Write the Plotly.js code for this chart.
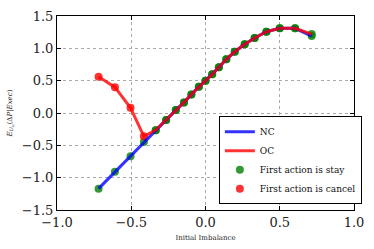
<!DOCTYPE html>
<html><head><meta charset="utf-8">
<script src="https://cdn.plot.ly/plotly-3.0.1.min.js"></script>
<style>html,body{margin:0;padding:0;background:#fff}</style>
</head><body><div id="c" style="width:374px;height:249px"></div>
<script>
const imbalance = [-0.72,-0.61,-0.505,-0.415,-0.335,-0.265,-0.2,-0.145,-0.095,-0.045,0,0.045,0.09,0.14,0.197,0.264,0.331,0.41,0.5,0.603,0.715];
const nc = [-1.17,-0.91,-0.667,-0.45,-0.265,-0.11,0.045,0.164,0.288,0.406,0.5,0.598,0.706,0.83,0.947,1.062,1.16,1.257,1.31,1.31,1.19];
const oc = [0.56,0.40,0.08,-0.36,-0.265,-0.11,0.045,0.164,0.288,0.406,0.5,0.598,0.706,0.83,0.947,1.062,1.16,1.257,1.31,1.31,1.22];
const nCancel = 4; // first OC points where first action is cancel

const stayX = imbalance.concat(imbalance.slice(nCancel));
const stayY = nc.concat(oc.slice(nCancel));
const cancelX = imbalance.slice(0, nCancel);
const cancelY = oc.slice(0, nCancel);

const font = "DejaVu Serif";
const green = 'rgba(0,128,0,0.8)', red = 'rgba(255,0,0,0.8)', blue = 'rgba(0,0,255,0.8)';
const traces = [
  {x: stayX, y: stayY, mode: 'markers', name: 'First action is stay', legendgroup: 's', showlegend: false,
   marker: {color: green, size: 8}},
  {x: cancelX, y: cancelY, mode: 'markers', name: 'First action is cancel', legendgroup: 'c', showlegend: false,
   marker: {color: red, size: 8}},
  {x: imbalance, y: nc, mode: 'lines', name: 'NC', line: {color: blue, width: 3}, legendrank: 1},
  {x: imbalance, y: oc, mode: 'lines', name: 'OC', line: {color: red, width: 3}, legendrank: 2},
  {x: [null], y: [null], mode: 'markers', name: 'First action is stay', legendgroup: 's', marker: {color: green, size: 8}, legendrank: 3},
  {x: [null], y: [null], mode: 'markers', name: 'First action is cancel', legendgroup: 'c', marker: {color: red, size: 8}, legendrank: 4}
];
const axisCommon = {
  showline: true, linecolor: '#000', linewidth: 1, mirror: 'ticks',
  ticks: 'inside', ticklen: 4, tickcolor: '#000',
  showgrid: true, gridcolor: '#aaa', griddash: 'dot', gridwidth: 1,
  zeroline: false, tickfont: {family: font, size: 13, color: '#222'}
};
const layout = {
  width: 374, height: 249,
  font: {family: font},
  margin: {l: 57, r: 18, t: 16, b: 39},
  paper_bgcolor: '#fff', plot_bgcolor: '#fff',
  xaxis: Object.assign({}, axisCommon, {range: [-1, 1], tickvals: [-1, -0.5, 0, 0.5, 1],
    ticktext: ['\u22121.0', '\u22120.5', '0.0', '0.5', '1.0'],
    title: {text: 'Initial Imbalance', font: {family: font, size: 7, color: '#222'}, standoff: 6}}),
  yaxis: Object.assign({}, axisCommon, {range: [-1.5, 1.5], tickvals: [-1.5, -1, -0.5, 0, 0.5, 1, 1.5],
    ticktext: ['\u22121.5', '\u22121.0', '\u22120.5', '0.0', '0.5', '1.0', '1.5'],
    title: {text: '<i>E<sub>U<sub>\u03c9</sub></sub></i>(\u0394<i>P</i>|<i>Exec</i>)', font: {family: font, size: 7, color: '#222'}, standoff: 8}}),
  legend: {x: 0.545, y: 0.03, xanchor: 'left', yanchor: 'bottom', bgcolor: '#fff',
    bordercolor: '#000', borderwidth: 1, font: {family: font, size: 9, color: '#111'},
    tracegroupgap: 0, itemwidth: 30, traceorder: 'normal'},
  showlegend: true
};
Plotly.newPlot('c', traces, layout, {displayModeBar: false, staticPlot: true});
</script></body></html>
